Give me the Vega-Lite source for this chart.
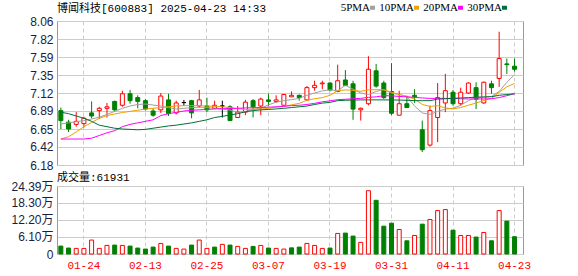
{
  "$schema": "https://vega.github.io/schema/vega-lite/v6.json",
  "background": "white",
  "padding": {"left": 6, "top": 2, "right": 0, "bottom": 0},
  "autosize": {"type": "pad"},
  "bounds": "flush",
  "spacing": 21,
  "config": {
    "view": {"stroke": "#999999", "strokeWidth": 1},
    "axis": {"labelFont": "Liberation Sans, Noto Sans CJK SC", "labelFontSize": 12, "labelColor": "#1c1c3c", "domain": false, "ticks": false, "gridColor": "#cccccc", "gridWidth": 1, "title": null, "labelFlush": false, "labelOverlap": false, "labelBound": false},
    "title": {"anchor": "start", "frame": "group", "fontWeight": "normal", "fontSize": 11, "color": "#000000", "font": "Liberation Mono, Noto Sans CJK SC"}
  },
  "datasets": {
    "k": [
      {"d":"01-21","o":6.89,"h":6.93,"l":6.65,"c":6.76,"cd":"down","vol":28400,"vd":"down","m5":6.715,"m10":6.519,"m20":6.519,"m30":6.87},
      {"d":"01-22","o":6.74,"h":6.77,"l":6.61,"c":6.65,"cd":"down","vol":21300,"vd":"down","m5":6.73,"m10":6.55,"m20":6.519,"m30":6.85},
      {"d":"01-23","o":6.71,"h":6.87,"l":6.68,"c":6.75,"cd":"up","vol":20100,"vd":"up","m5":6.745,"m10":6.61,"m20":6.519,"m30":6.82},
      {"d":"01-24","o":6.72,"h":6.81,"l":6.67,"c":6.79,"cd":"up","vol":20100,"vd":"up","m5":6.76,"m10":6.68,"m20":6.519,"m30":6.79},
      {"d":"01-27","o":6.86,"h":7.01,"l":6.79,"c":6.82,"cd":"down","vol":50000,"vd":"up","m5":6.78,"m10":6.735,"m20":6.53,"m30":6.75},
      {"d":"02-05","o":6.89,"h":6.94,"l":6.78,"c":6.92,"cd":"up","vol":20100,"vd":"up","m5":6.805,"m10":6.79,"m20":6.565,"m30":6.70},
      {"d":"02-06","o":6.92,"h":6.99,"l":6.80,"c":6.94,"cd":"up","vol":30800,"vd":"up","m5":6.84,"m10":6.825,"m20":6.60,"m30":6.68},
      {"d":"02-07","o":7.01,"h":7.02,"l":6.88,"c":6.90,"cd":"down","vol":32000,"vd":"down","m5":6.88,"m10":6.846,"m20":6.628,"m30":6.66},
      {"d":"02-10","o":6.96,"h":7.15,"l":6.94,"c":7.11,"cd":"up","vol":30800,"vd":"up","m5":6.92,"m10":6.865,"m20":6.68,"m30":6.65},
      {"d":"02-11","o":7.11,"h":7.16,"l":6.98,"c":7.02,"cd":"down","vol":28400,"vd":"down","m5":6.95,"m10":6.88,"m20":6.71,"m30":6.645},
      {"d":"02-12","o":7.06,"h":7.09,"l":6.92,"c":7.01,"cd":"down","vol":21300,"vd":"down","m5":6.97,"m10":6.895,"m20":6.73,"m30":6.64},
      {"d":"02-13","o":7.02,"h":7.04,"l":6.89,"c":6.91,"cd":"down","vol":17700,"vd":"down","m5":6.976,"m10":6.91,"m20":6.75,"m30":6.645},
      {"d":"02-14","o":6.885,"h":6.92,"l":6.81,"c":6.83,"cd":"down","vol":24800,"vd":"down","m5":6.963,"m10":6.92,"m20":6.77,"m30":6.66},
      {"d":"02-17","o":6.90,"h":7.12,"l":6.86,"c":7.08,"cd":"up","vol":37900,"vd":"up","m5":6.95,"m10":6.93,"m20":6.825,"m30":6.675},
      {"d":"02-18","o":7.03,"h":7.11,"l":6.82,"c":6.85,"cd":"down","vol":28400,"vd":"down","m5":6.93,"m10":6.94,"m20":6.85,"m30":6.69},
      {"d":"02-19","o":6.86,"h":7.02,"l":6.84,"c":6.99,"cd":"up","vol":20100,"vd":"up","m5":6.911,"m10":6.95,"m20":6.868,"m30":6.70},
      {"d":"02-20","o":6.995,"h":7.03,"l":6.95,"c":6.995,"cd":"flat","vol":17700,"vd":"up","m5":6.92,"m10":6.955,"m20":6.885,"m30":6.715},
      {"d":"02-21","o":7.02,"h":7.03,"l":6.79,"c":6.86,"cd":"down","vol":32000,"vd":"down","m5":6.929,"m10":6.955,"m20":6.895,"m30":6.73},
      {"d":"02-24","o":6.95,"h":7.16,"l":6.93,"c":7.03,"cd":"up","vol":50000,"vd":"up","m5":6.935,"m10":6.955,"m20":6.90,"m30":6.75},
      {"d":"02-25","o":6.95,"h":7.06,"l":6.87,"c":6.90,"cd":"down","vol":20100,"vd":"up","m5":6.93,"m10":6.95,"m20":6.905,"m30":6.77},
      {"d":"02-26","o":6.92,"h":7.02,"l":6.91,"c":6.96,"cd":"up","vol":24800,"vd":"down","m5":6.92,"m10":6.945,"m20":6.911,"m30":6.80},
      {"d":"02-27","o":6.95,"h":7.02,"l":6.80,"c":6.95,"cd":"flat","vol":34500,"vd":"up","m5":6.91,"m10":6.94,"m20":6.915,"m30":6.815},
      {"d":"02-28","o":6.94,"h":6.96,"l":6.755,"c":6.76,"cd":"down","vol":32000,"vd":"down","m5":6.898,"m10":6.93,"m20":6.918,"m30":6.833},
      {"d":"03-03","o":6.80,"h":6.95,"l":6.80,"c":6.87,"cd":"up","vol":27200,"vd":"up","m5":6.868,"m10":6.915,"m20":6.92,"m30":6.85},
      {"d":"03-04","o":6.87,"h":7.03,"l":6.83,"c":7.00,"cd":"up","vol":20100,"vd":"up","m5":6.88,"m10":6.905,"m20":6.925,"m30":6.875},
      {"d":"03-05","o":7.02,"h":7.04,"l":6.80,"c":6.94,"cd":"down","vol":27200,"vd":"down","m5":6.905,"m10":6.91,"m20":6.928,"m30":6.89},
      {"d":"03-06","o":6.95,"h":7.06,"l":6.83,"c":7.04,"cd":"up","vol":30800,"vd":"up","m5":6.92,"m10":6.911,"m20":6.93,"m30":6.90},
      {"d":"03-07","o":7.03,"h":7.11,"l":6.95,"c":7.01,"cd":"down","vol":21300,"vd":"down","m5":6.965,"m10":6.92,"m20":6.935,"m30":6.905},
      {"d":"03-10","o":7.01,"h":7.09,"l":6.99,"c":7.03,"cd":"up","vol":20100,"vd":"up","m5":7.0,"m10":6.935,"m20":6.94,"m30":6.912},
      {"d":"03-11","o":6.96,"h":7.11,"l":6.96,"c":7.10,"cd":"up","vol":17700,"vd":"up","m5":7.02,"m10":6.946,"m20":6.946,"m30":6.92},
      {"d":"03-12","o":7.07,"h":7.14,"l":7.07,"c":7.09,"cd":"up","vol":22000,"vd":"down","m5":7.033,"m10":6.965,"m20":6.955,"m30":6.93},
      {"d":"03-13","o":7.09,"h":7.10,"l":7.02,"c":7.06,"cd":"down","vol":24800,"vd":"down","m5":7.05,"m10":6.985,"m20":6.96,"m30":6.94},
      {"d":"03-14","o":7.03,"h":7.21,"l":7.02,"c":7.19,"cd":"up","vol":37900,"vd":"up","m5":7.09,"m10":7.025,"m20":6.97,"m30":6.95},
      {"d":"03-17","o":7.19,"h":7.28,"l":7.15,"c":7.22,"cd":"up","vol":30800,"vd":"up","m5":7.12,"m10":7.045,"m20":6.985,"m30":6.97},
      {"d":"03-18","o":7.24,"h":7.28,"l":7.17,"c":7.25,"cd":"up","vol":20100,"vd":"up","m5":7.148,"m10":7.06,"m20":7.005,"m30":6.988},
      {"d":"03-19","o":7.25,"h":7.26,"l":7.14,"c":7.16,"cd":"down","vol":21300,"vd":"down","m5":7.16,"m10":7.09,"m20":7.018,"m30":6.998},
      {"d":"03-20","o":7.14,"h":7.49,"l":7.13,"c":7.28,"cd":"up","vol":73800,"vd":"up","m5":7.15,"m10":7.15,"m20":7.033,"m30":7.02},
      {"d":"03-21","o":7.29,"h":7.42,"l":7.21,"c":7.22,"cd":"down","vol":75000,"vd":"down","m5":7.22,"m10":7.16,"m20":7.038,"m30":7.025},
      {"d":"03-24","o":7.24,"h":7.28,"l":6.77,"c":6.91,"cd":"down","vol":64300,"vd":"down","m5":7.17,"m10":7.155,"m20":7.045,"m30":7.028},
      {"d":"03-25","o":6.90,"h":6.93,"l":6.76,"c":6.92,"cd":"up","vol":41700,"vd":"up","m5":7.12,"m10":7.142,"m20":7.05,"m30":7.03},
      {"d":"03-26","o":6.98,"h":7.60,"l":6.96,"c":7.43,"cd":"up","vol":227000,"vd":"up","m5":7.10,"m10":7.16,"m20":7.063,"m30":7.03},
      {"d":"03-27","o":7.41,"h":7.50,"l":7.19,"c":7.21,"cd":"down","vol":192600,"vd":"down","m5":7.14,"m10":7.164,"m20":7.07,"m30":7.03},
      {"d":"03-28","o":7.25,"h":7.28,"l":7.04,"c":7.06,"cd":"down","vol":99800,"vd":"down","m5":7.165,"m10":7.16,"m20":7.085,"m30":7.03},
      {"d":"03-31","o":7.14,"h":7.51,"l":6.83,"c":6.855,"cd":"down","vol":110500,"vd":"down","m5":7.12,"m10":7.13,"m20":7.083,"m30":7.029},
      {"d":"04-01","o":6.83,"h":7.15,"l":6.83,"c":6.98,"cd":"up","vol":87900,"vd":"up","m5":7.10,"m10":7.10,"m20":7.075,"m30":7.028},
      {"d":"04-02","o":6.98,"h":7.085,"l":6.93,"c":6.93,"cd":"down","vol":47400,"vd":"down","m5":7.075,"m10":7.075,"m20":7.07,"m30":7.025},
      {"d":"04-03","o":7.09,"h":7.17,"l":6.99,"c":7.07,"cd":"down","vol":66500,"vd":"up","m5":6.95,"m10":7.04,"m20":7.063,"m30":7.02},
      {"d":"04-07","o":6.64,"h":6.76,"l":6.35,"c":6.38,"cd":"down","vol":107000,"vd":"down","m5":6.86,"m10":6.97,"m20":7.055,"m30":7.02},
      {"d":"04-08","o":6.44,"h":6.955,"l":6.42,"c":6.89,"cd":"up","vol":123600,"vd":"up","m5":6.84,"m10":6.945,"m20":7.05,"m30":7.02},
      {"d":"04-09","o":6.80,"h":7.25,"l":6.48,"c":7.06,"cd":"up","vol":155700,"vd":"up","m5":6.88,"m10":6.955,"m20":7.05,"m30":7.04},
      {"d":"04-10","o":6.99,"h":7.37,"l":6.87,"c":7.15,"cd":"up","vol":159300,"vd":"up","m5":6.91,"m10":6.925,"m20":7.05,"m30":7.045},
      {"d":"04-11","o":7.13,"h":7.16,"l":6.955,"c":6.98,"cd":"down","vol":85500,"vd":"down","m5":6.92,"m10":6.912,"m20":7.05,"m30":7.05},
      {"d":"04-14","o":6.98,"h":7.19,"l":6.96,"c":7.13,"cd":"up","vol":66500,"vd":"up","m5":6.96,"m10":6.93,"m20":7.045,"m30":7.055},
      {"d":"04-15","o":7.12,"h":7.26,"l":7.11,"c":7.25,"cd":"up","vol":66500,"vd":"up","m5":7.02,"m10":6.96,"m20":7.042,"m30":7.06},
      {"d":"04-16","o":7.19,"h":7.26,"l":6.91,"c":7.04,"cd":"down","vol":60700,"vd":"down","m5":7.063,"m10":6.99,"m20":7.042,"m30":7.065},
      {"d":"04-17","o":6.99,"h":7.27,"l":6.98,"c":7.26,"cd":"up","vol":77200,"vd":"up","m5":7.065,"m10":7.02,"m20":7.042,"m30":7.068},
      {"d":"04-18","o":7.24,"h":7.28,"l":7.11,"c":7.19,"cd":"down","vol":47400,"vd":"down","m5":7.075,"m10":7.05,"m20":7.045,"m30":7.072},
      {"d":"04-21","o":7.31,"h":7.92,"l":7.20,"c":7.57,"cd":"up","vol":155700,"vd":"up","m5":7.14,"m10":7.13,"m20":7.06,"m30":7.09},
      {"d":"04-22","o":7.50,"h":7.57,"l":7.37,"c":7.49,"cd":"down","vol":118000,"vd":"down","m5":7.26,"m10":7.20,"m20":7.085,"m30":7.10},
      {"d":"04-23","o":7.47,"h":7.57,"l":7.40,"c":7.43,"cd":"down","vol":61931,"vd":"down","m5":7.36,"m10":7.245,"m20":7.11,"m30":7.11}
    ]
  },
  "vconcat": [
    {
      "width": 466,
      "height": 144,
      "title": {"text": "博闻科技[600883] 2025-04-23 14:33", "offset": 1},
      "data": {"name": "k"},
      "encoding": {
        "x": {"field": "d", "type": "ordinal", "scale": {"type": "band", "paddingInner": 0, "paddingOuter": 0.3, "align": 0},
          "axis": {"values": ["01-24","02-13","02-25","03-07","03-19","03-31","04-11","04-23"], "labels": false, "grid": true, "gridDash": [4, 3], "bandPosition": 0.5}}
      },
      "layer": [
        {
          "mark": {"type": "rule", "strokeWidth": 1},
          "encoding": {
            "y": {"field": "l", "type": "quantitative", "scale": {"domain": [6.18, 8.06], "zero": false, "nice": false},
              "axis": {"values": [6.18, 6.42, 6.65, 6.89, 7.12, 7.35, 7.59, 7.82, 8.06], "tickCount": 20, "format": ".2f", "grid": true, "labelPadding": 4, "minExtent": 50, "maxExtent": 50, "labelOverlap": false}},
            "y2": {"field": "h"},
            "stroke": {"field": "cd", "type": "nominal", "scale": {"domain": ["up", "down", "flat"], "range": ["#ff0000", "#008000", "#000000"]}, "legend": null}
          }
        },
        {
          "mark": {"type": "bar", "size": 4, "strokeWidth": 1},
          "encoding": {
            "y": {"field": "o", "type": "quantitative"},
            "y2": {"field": "c"},
            "stroke": {"field": "cd", "type": "nominal", "scale": {"domain": ["up", "down", "flat"], "range": ["#ff0000", "#008000", "#000000"]}, "legend": null},
            "fill": {"field": "cd", "type": "nominal", "scale": {"domain": ["up", "down", "flat"], "range": ["#ffffff", "#008000", "#000000"]}, "legend": null}
          }
        },
        {
          "transform": [{"fold": ["m5", "m10", "m20", "m30"], "as": ["ma", "v"]}],
          "mark": {"type": "line", "strokeWidth": 1},
          "encoding": {
            "y": {"field": "v", "type": "quantitative"},
            "color": {"field": "ma", "type": "nominal", "scale": {"domain": ["m5", "m10", "m20", "m30"], "range": ["#a0a0a0", "#f0a000", "#ff00ff", "#00703a"]},
              "legend": {"orient": "none", "legendX": 310, "legendY": -19, "direction": "horizontal", "title": null, "symbolType": "stroke", "symbolSize": 25, "symbolStrokeWidth": 4, "labelFont": "Liberation Serif", "labelFontSize": 11, "labelColor": "#000000", "labelAlign": "right", "labelOffset": -8, "columnPadding": -4, "padding": 0,
                "labelExpr": "datum.label == 'm5' ? '5PMA' : datum.label == 'm10' ? '10PMA' : datum.label == 'm20' ? '20PMA' : '30PMA'"}}
          }
        }
      ]
    },
    {
      "width": 466,
      "height": 68,
      "title": {"text": "成交量:61931", "offset": -3},
      "data": {"name": "k"},
      "mark": {"type": "bar", "size": 4, "strokeWidth": 1},
      "encoding": {
        "x": {"field": "d", "type": "ordinal", "scale": {"type": "band", "paddingInner": 0, "paddingOuter": 0.3, "align": 0},
          "axis": {"values": ["01-24","02-13","02-25","03-07","03-19","03-31","04-11","04-23"], "grid": true, "gridDash": [4, 3], "bandPosition": 0.5, "labelAngle": 0, "labelColor": "#ff0000", "labelFont": "Liberation Mono", "labelFontSize": 11, "labelPadding": 5}},
        "y": {"field": "vol", "type": "quantitative", "scale": {"domain": [0, 243900], "nice": false},
          "axis": {"values": [0, 61000, 122000, 183000, 243900], "tickCount": 20, "grid": true, "labelPadding": 4, "minExtent": 50, "maxExtent": 50, "labelOverlap": false,
            "labelExpr": "datum.value == 0 ? '0' : format(datum.value / 10000, '.2f') + '万'"}},
        "stroke": {"field": "vd", "type": "nominal", "scale": {"domain": ["up", "down"], "range": ["#ff0000", "#008000"]}, "legend": null},
        "fill": {"field": "vd", "type": "nominal", "scale": {"domain": ["up", "down"], "range": ["#ffffff", "#008000"]}, "legend": null}
      }
    }
  ]
}
